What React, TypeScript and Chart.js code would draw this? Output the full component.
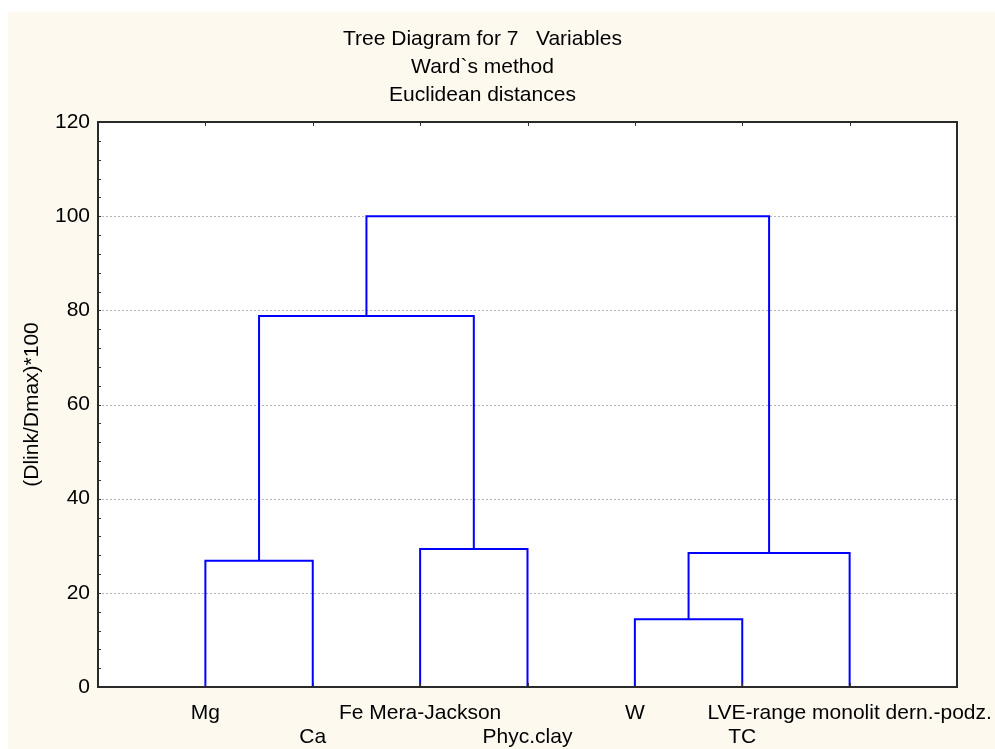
import React, { useEffect, useRef } from "react";
import { Chart, registerables } from "chart.js";

Chart.register(...registerables);

// Leaves in dendrogram order
const leaves: string[] = [
  "Mg",
  "Ca",
  "Fe Mera-Jackson",
  "Phyc.clay",
  "W",
  "TC",
  "LVE-range monolit dern.-podz.",
];
// Merge steps: node ids 0..6 are leaves, new clusters get ids 7, 8, ...
const mergeLeft: number[] = [0, 2, 4, 9, 7, 11];
const mergeRight: number[] = [1, 3, 5, 6, 8, 10];
const mergeHeight: number[] = [26.8, 29.3, 14.4, 28.45, 78.8, 100];

const titleLines: string[] = [
  "Tree Diagram for 7   Variables",
  "Ward`s method",
  "Euclidean distances",
];
const yTitle = "(Dlink/Dmax)*100";
const yMin = 0;
const yMax = 120;
const yStep = 20;
const yMinorStep = 4;

const FONT = "'Liberation Sans', Arial, Helvetica, sans-serif";
const CREAM = "#fdf9ef";
const LINK_COLOR = "#0000ff";
const W = 995;
const H = 749;

function buildLinks() {
  const nodeX: number[] = leaves.map((_, i) => i + 1);
  const nodeH: number[] = leaves.map(() => 0);
  const segs: { x: number; y: number }[][] = [];
  mergeLeft.forEach((l, k) => {
    const r = mergeRight[k];
    const h = mergeHeight[k];
    segs.push([
      { x: nodeX[l], y: nodeH[l] },
      { x: nodeX[l], y: h },
      { x: nodeX[r], y: h },
      { x: nodeX[r], y: nodeH[r] },
    ]);
    nodeX.push((nodeX[l] + nodeX[r]) / 2);
    nodeH.push(h);
  });
  return segs;
}

const framePlugin = {
  id: "framePlugin",
  beforeDraw(chart: any) {
    const { ctx, chartArea, width, height } = chart;
    const y = chart.scales.y;
    ctx.save();
    ctx.fillStyle = "#ffffff";
    ctx.fillRect(0, 0, width, height);
    ctx.fillStyle = CREAM;
    ctx.fillRect(8, 12, width - 8, height - 12);
    ctx.fillStyle = "#ffffff";
    ctx.fillRect(
      chartArea.left,
      chartArea.top,
      chartArea.right - chartArea.left,
      chartArea.bottom - chartArea.top
    );
    ctx.strokeStyle = "#b4b4b4";
    ctx.lineWidth = 1;
    ctx.setLineDash([2, 2]);
    for (let v = yMin + yStep; v < yMax; v += yStep) {
      const py = Math.round(y.getPixelForValue(v)) + 0.5;
      ctx.beginPath();
      ctx.moveTo(chartArea.left, py);
      ctx.lineTo(chartArea.right, py);
      ctx.stroke();
    }
    ctx.restore();
  },
  afterDraw(chart: any) {
    const { ctx, chartArea } = chart;
    const x = chart.scales.x;
    const y = chart.scales.y;
    ctx.save();
    ctx.strokeStyle = "#333333";
    ctx.lineWidth = 1;
    for (let v = yMin; v <= yMax; v += yMinorStep) {
      const py = Math.round(y.getPixelForValue(v)) + 0.5;
      ctx.beginPath();
      ctx.moveTo(chartArea.left, py);
      ctx.lineTo(chartArea.left + 3, py);
      ctx.stroke();
    }
    leaves.forEach((_, i) => {
      const px = Math.round(x.getPixelForValue(i + 1)) + 0.5;
      ctx.beginPath();
      ctx.moveTo(px, chartArea.top);
      ctx.lineTo(px, chartArea.top + 4);
      ctx.moveTo(px, chartArea.bottom);
      ctx.lineTo(px, chartArea.bottom - 4);
      ctx.stroke();
    });
    ctx.lineWidth = 2;
    ctx.strokeStyle = "#2a2a2a";
    ctx.strokeRect(
      chartArea.left,
      chartArea.top,
      chartArea.right - chartArea.left,
      chartArea.bottom - chartArea.top
    );
    ctx.restore();
  },
};

export default function App() {
  const ref = useRef<HTMLCanvasElement | null>(null);
  useEffect(() => {
    const prevMargin = document.body.style.margin;
    const prevOverflow = document.body.style.overflow;
    document.body.style.margin = "0";
    document.body.style.overflow = "hidden";
    if (!ref.current) return;
    const links = buildLinks();
    const chart = new Chart(ref.current, {
      type: "line",
      data: {
        datasets: links.map((pts) => ({
          data: pts,
          borderColor: LINK_COLOR,
          borderWidth: 2,
          pointRadius: 0,
          fill: false,
          tension: 0,
        })),
      },
      options: {
        animation: false,
        responsive: false,
        maintainAspectRatio: false,
        layout: { padding: { left: 8, right: 38, top: 0, bottom: 0 } },
        plugins: {
          legend: { display: false },
          tooltip: { enabled: false },
          title: {
            display: true,
            text: titleLines,
            color: "#000000",
            font: { family: FONT, size: 21, weight: "normal", lineHeight: "28px" as any },
            padding: { top: 25, bottom: 13 },
          },
        },
        scales: {
          x: {
            type: "linear",
            min: 0,
            max: leaves.length + 1,
            grid: { display: false, drawTicks: false },
            border: { display: false },
            afterBuildTicks: (scale: any) => {
              scale.ticks = leaves.map((_, i) => ({ value: i + 1 }));
            },
            afterFit: (scale: any) => {
              scale.height = 62;
              scale.paddingLeft = 0;
              scale.paddingRight = 0;
            },
            ticks: {
              autoSkip: false,
              maxRotation: 0,
              minRotation: 0,
              padding: 14,
              color: "#000000",
              font: { family: FONT, size: 21, lineHeight: "24px" as any },
              callback: (value: any) => {
                const i = Math.round(Number(value)) - 1;
                const name = leaves[i] ?? "";
                return i % 2 === 0 ? [name] : ["", name];
              },
            },
          },
          y: {
            type: "linear",
            min: yMin,
            max: yMax,
            grid: { display: false, drawTicks: false },
            border: { display: false },
            afterFit: (scale: any) => {
              scale.width = 90;
              scale.paddingTop = 0;
              scale.paddingBottom = 0;
            },
            ticks: {
              stepSize: yStep,
              padding: 8,
              color: "#000000",
              font: { family: FONT, size: 21, lineHeight: "24px" as any },
            },
            title: {
              display: true,
              text: yTitle,
              color: "#000000",
              font: { family: FONT, size: 21, lineHeight: "24px" as any },
              padding: { top: 12, bottom: 13 },
            },
          },
        },
      },
      plugins: [framePlugin],
    });
    return () => {
      chart.destroy();
      document.body.style.margin = prevMargin;
      document.body.style.overflow = prevOverflow;
    };
  }, []);
  return (
    <div>
      <canvas ref={ref} width={W} height={H} style={{ display: "block", width: W, height: H }} />
    </div>
  );
}
